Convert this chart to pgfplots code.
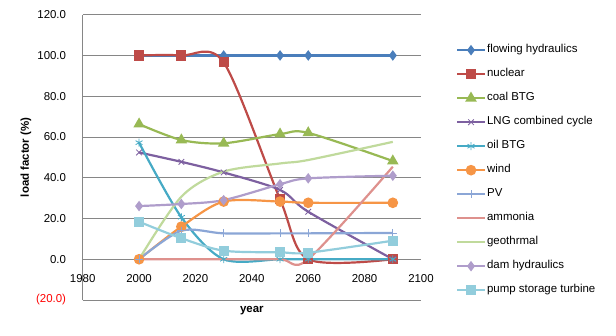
\documentclass[border=0pt]{standalone}
\usepackage{fontspec}
\setmainfont{Liberation Sans}
\usepackage{pgfplots}
\pgfplotsset{compat=1.18}
\definecolor{cA}{HTML}{4A7EBB}
\definecolor{cB}{HTML}{BE4B48}
\definecolor{cC}{HTML}{98B954}
\definecolor{cD}{HTML}{7D60A0}
\definecolor{cE}{HTML}{46AAC5}
\definecolor{cF}{HTML}{F69546}
\definecolor{cG}{HTML}{8BA6D6}
\definecolor{cH}{HTML}{DE918D}
\definecolor{cI}{HTML}{C0DA9C}
\definecolor{cJ}{HTML}{AF9DCB}
\definecolor{cK}{HTML}{92CDDC}
\definecolor{gridc}{HTML}{868686}
\begin{document}
\begin{tikzpicture}
\useasboundingbox (0,0) rectangle (616bp,336bp);
\begin{axis}[
  at={(82.7bp,36bp)}, anchor=south west,
  scale only axis, width=338.3bp, height=285.3bp,
  xmin=1980, xmax=2100, ymin=-20, ymax=120,
  axis x line=middle, axis y line=left,
  axis line style={-, draw=gridc, line width=0.75bp},
  hide obscured x ticks=false, hide obscured y ticks=false,
  xtick={1980,2000,2020,2040,2060,2080,2100},
  xticklabels={1980,2000,2020,2040,2060,2080,2100},
  ytick={-20,0,20,40,60,80,100,120},
  yticklabels={{\textcolor{red}{(20.0)}},0.0,20.0,40.0,60.0,80.0,100.0,120.0},
  tick style={draw=none},
  ymajorgrids, major grid style={draw=gridc, line width=0.75bp},
  ticklabel style={font=\fontsize{11.5}{13}\selectfont},
  xticklabel style={anchor=north, yshift=-9.5bp},
  yticklabel style={anchor=east, xshift=-11bp},
  every axis x label/.style={at={(rel axis cs:0.5,0)}, anchor=north, yshift=-3bp, font=\fontsize{11.5}{13}\selectfont\bfseries},
  every axis y label/.style={at={(rel axis cs:0,0.5)}, rotate=90, anchor=center, yshift=56.7bp, font=\fontsize{11.5}{13}\selectfont\bfseries},
  xlabel={year}, ylabel={load factor (\%)},
  legend style={at={(1.1026,0.8956)}, anchor=north west, draw=none, fill=none,
    inner sep=0pt, font=\fontsize{11.5}{13}\selectfont,
    nodes={inner sep=0pt, text height=8bp, text depth=3bp},
    row sep=13bp, column sep=1bp},
  legend cell align=left,
  legend image code/.code={\draw[mark repeat=2,mark phase=2,#1] plot coordinates {(0bp,0bp) (14bp,0bp) (28bp,0bp)};},
  every axis plot/.append style={smooth, line width=2.2bp},
]
\addplot[color=cA, mark=diamond*, mark size=3.5] coordinates {(2000,100) (2015,100) (2030,100) (2050,100) (2060,100) (2090,100)};
\addlegendentry{flowing hydraulics}
\addplot[color=cB, mark=square*, mark size=4.0] coordinates {(2000,100) (2015,100) (2030,96.6) (2050,29.4) (2060,0) (2090,0)};
\addlegendentry{nuclear}
\addplot[color=cC, mark=triangle*, mark size=4.5] coordinates {(2000,66.3) (2015,58.5) (2030,56.9) (2050,61.4) (2060,62) (2090,48.2)};
\addlegendentry{coal BTG}
\addplot[color=cD, mark=x, mark size=4.0, mark options={line width=0.8bp}] coordinates {(2000,52.4) (2015,47.8) (2030,42.6) (2050,34) (2060,23.3) (2090,0)};
\addlegendentry{LNG combined cycle}
\addplot[color=cE, mark=asterisk, mark size=4.0, mark options={line width=0.8bp}] coordinates {(2000,57.2) (2015,20.6) (2030,0) (2050,0) (2060,0) (2090,0)};
\addlegendentry{oil BTG}
\addplot[color=cF, mark=*, mark size=4.2] coordinates {(2000,0) (2015,16) (2030,28.3) (2050,28.3) (2060,27.7) (2090,27.7)};
\addlegendentry{wind}
\addplot[color=cG, mark=+, mark size=4.0, mark options={line width=0.8bp}] coordinates {(2000,0) (2015,14) (2030,12.7) (2050,12.7) (2060,12.7) (2090,12.9)};
\addlegendentry{PV}
\addplot[color=cH] coordinates {(2000,0) (2015,0) (2030,0) (2050,0) (2060,0) (2090,45.4)};
\addlegendentry{ammonia}
\addplot[color=cI] coordinates {(2000,0) (2015,30.7) (2030,43) (2050,47) (2060,48.7) (2090,57.6)};
\addlegendentry{geothrmal}
\addplot[color=cJ, mark=diamond*, mark size=3.5] coordinates {(2000,26.1) (2015,27.1) (2030,29) (2050,36.8) (2060,39.7) (2090,41)};
\addlegendentry{dam hydraulics}
\addplot[color=cK, mark=square*, mark size=4.0] coordinates {(2000,18.4) (2015,10.3) (2030,4.2) (2050,3.4) (2060,3.2) (2090,9.1)};
\addlegendentry{pump storage turbine}
\end{axis}
\end{tikzpicture}
\end{document}
